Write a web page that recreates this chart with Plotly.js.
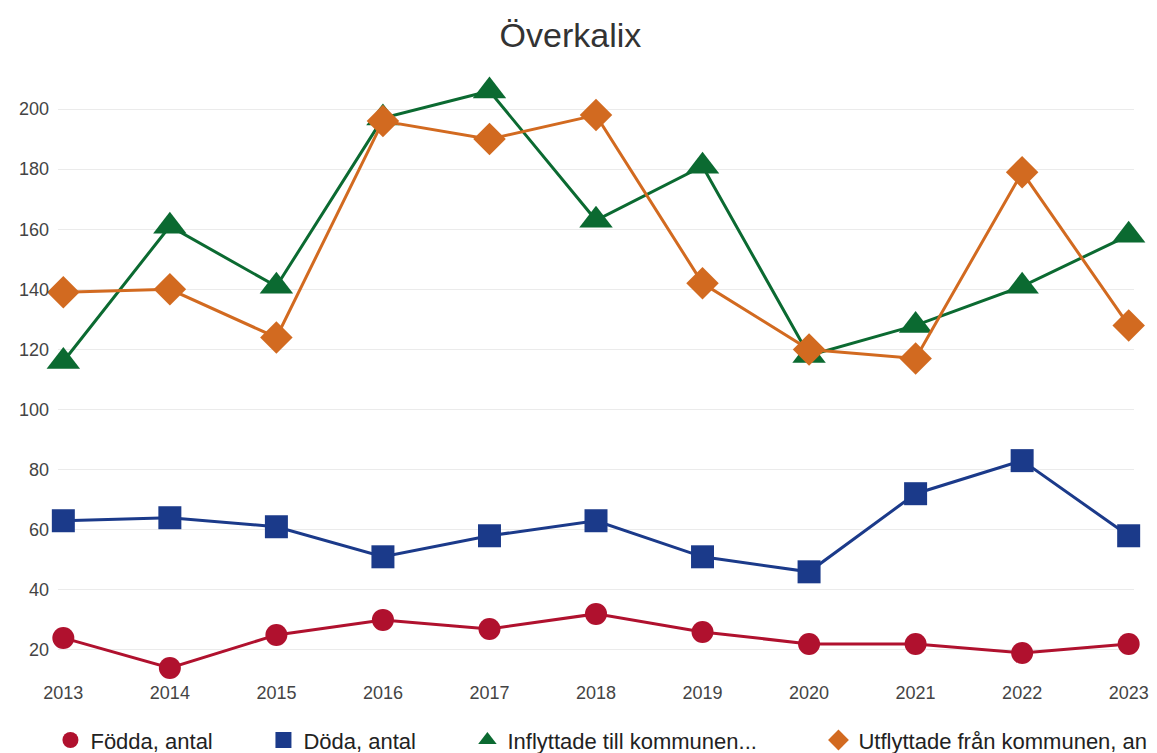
<!DOCTYPE html>
<html>
<head>
<meta charset="utf-8">
<script src="https://cdn.plot.ly/plotly-3.0.1.min.js"></script>
<style>html,body{margin:0;padding:0;background:#fff;overflow:hidden;}#chart{width:1157px;height:753px;}</style>
</head>
<body>
<div id="chart"></div>
<script>
const years = [2013, 2014, 2015, 2016, 2017, 2018, 2019, 2020, 2021, 2022, 2023];
const fodda = [24, 14, 25, 30, 27, 32, 26, 22, 22, 19, 22];
const doda = [63, 64, 61, 51, 58, 63, 51, 46, 72, 83, 58];
const inflyttade = [116, 161, 141, 197, 206, 163, 181, 118, 128, 141, 158];
const utflyttade = [139, 140, 124, 196, 190, 198, 142, 120, 117, 179, 128];
const names = ["Födda, antal", "Döda, antal", "Inflyttade till kommunen...", "Utflyttade från kommunen, an"];
const yTicks = [20, 40, 60, 80, 100, 120, 140, 160, 180, 200];

const FONT = "Liberation Sans, Arial, sans-serif";
const colors = ["#B0112E", "#1B3A8A", "#0B6A31", "#D26A20"];
const symbols = ["circle", "square", "triangle-up", "diamond"];
const sizes = [22, 23, 29, 25];
const series = [fodda, doda, inflyttade, utflyttade];
const legendIds = ["legend", "legend2", "legend3", "legend4"];
const legendX = [0.0436, 0.2277, 0.404, 0.7074];

const traces = [];
series.forEach((s, i) => {
  traces.push({
    x: years, y: s, name: names[i], type: "scatter", mode: "lines+markers",
    line: {color: colors[i], width: 3},
    marker: {color: colors[i], symbol: symbols[i], size: sizes[i]},
    cliponaxis: false, showlegend: false
  });
});
series.forEach((s, i) => {
  traces.push({
    x: [null], y: [null], name: names[i], type: "scatter", mode: "markers",
    marker: {color: colors[i], symbol: symbols[i], size: sizes[i]},
    legend: legendIds[i], showlegend: true
  });
});

const legendBase = (x) => ({
  x: x, xref: "container", y: 0.017, yref: "container", xanchor: "left", yanchor: "middle",
  orientation: "h",
  font: {family: FONT, size: 22, color: "#222"},
  bgcolor: "rgba(0,0,0,0)", itemwidth: 30, tracegroupgap: 0
});

const layout = {
  width: 1157, height: 753,
  paper_bgcolor: "#fff", plot_bgcolor: "#fff",
  margin: {l: 58, r: 23, t: 64, b: 73},
  title: {text: "Överkalix", x: 0.493, xanchor: "center", y: 0.953, yanchor: "middle",
    font: {family: FONT, size: 34, color: "#333"}},
  xaxis: {range: [2012.95, 2023.05], tickvals: years, ticktext: years.map(String),
    showgrid: false, zeroline: false, showline: false, ticks: "", automargin: false,
    tickfont: {family: FONT, size: 18, color: "#444"}},
  yaxis: {range: [10, 215], tickvals: yTicks, ticktext: yTicks.map(String),
    showgrid: true, gridcolor: "#ebebeb", gridwidth: 1, zeroline: false, showline: false, ticks: "",
    ticklabelstandoff: 8, automargin: false,
    tickfont: {family: FONT, size: 18, color: "#444"}},
  showlegend: true,
  legend: legendBase(legendX[0]),
  legend2: legendBase(legendX[1]),
  legend3: legendBase(legendX[2]),
  legend4: legendBase(legendX[3])
};

Plotly.newPlot("chart", traces, layout, {displayModeBar: false, staticPlot: true});
</script>
</body>
</html>
